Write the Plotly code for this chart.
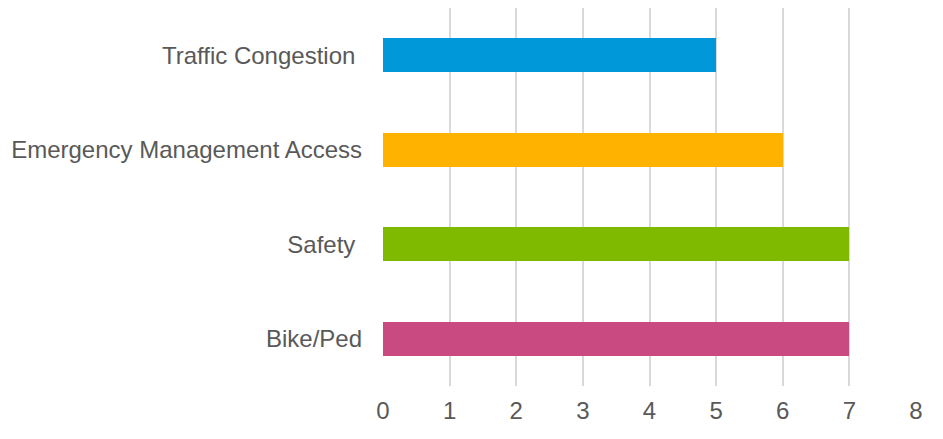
import plotly.graph_objects as go

categories = ["Bike/Ped", "Safety\u00a0", "Emergency Management Access", "Traffic Congestion\u00a0"]
values = [7, 7, 6, 5]
colors = ["#c84a80", "#7fba00", "#ffb200", "#0098d8"]

fig = go.Figure()
fig.add_trace(go.Bar(
    y=categories, x=values, orientation="h",
    marker=dict(color=colors, line=dict(width=0)),
    width=0.36,
))

# page body has an 8px margin, so margins are shifted by 8px
fig.update_layout(
    width=943, height=439,
    margin=dict(l=375, r=35, t=0, b=61),
    plot_bgcolor="white", paper_bgcolor="white",
    font=dict(family="Liberation Sans, Arial", size=24, color="#595959"),
    showlegend=False,
    bargap=0,
)
fig.update_xaxes(
    range=[0, 8], dtick=1, showgrid=True, gridcolor="#d9d9d9", gridwidth=2,
    zeroline=False, showline=False, ticks="", ticklabelstandoff=8,
)
fig.update_yaxes(
    showgrid=False, zeroline=False, showline=False, ticks="", ticklabelstandoff=20,
)

fig.write_html("out.html")
